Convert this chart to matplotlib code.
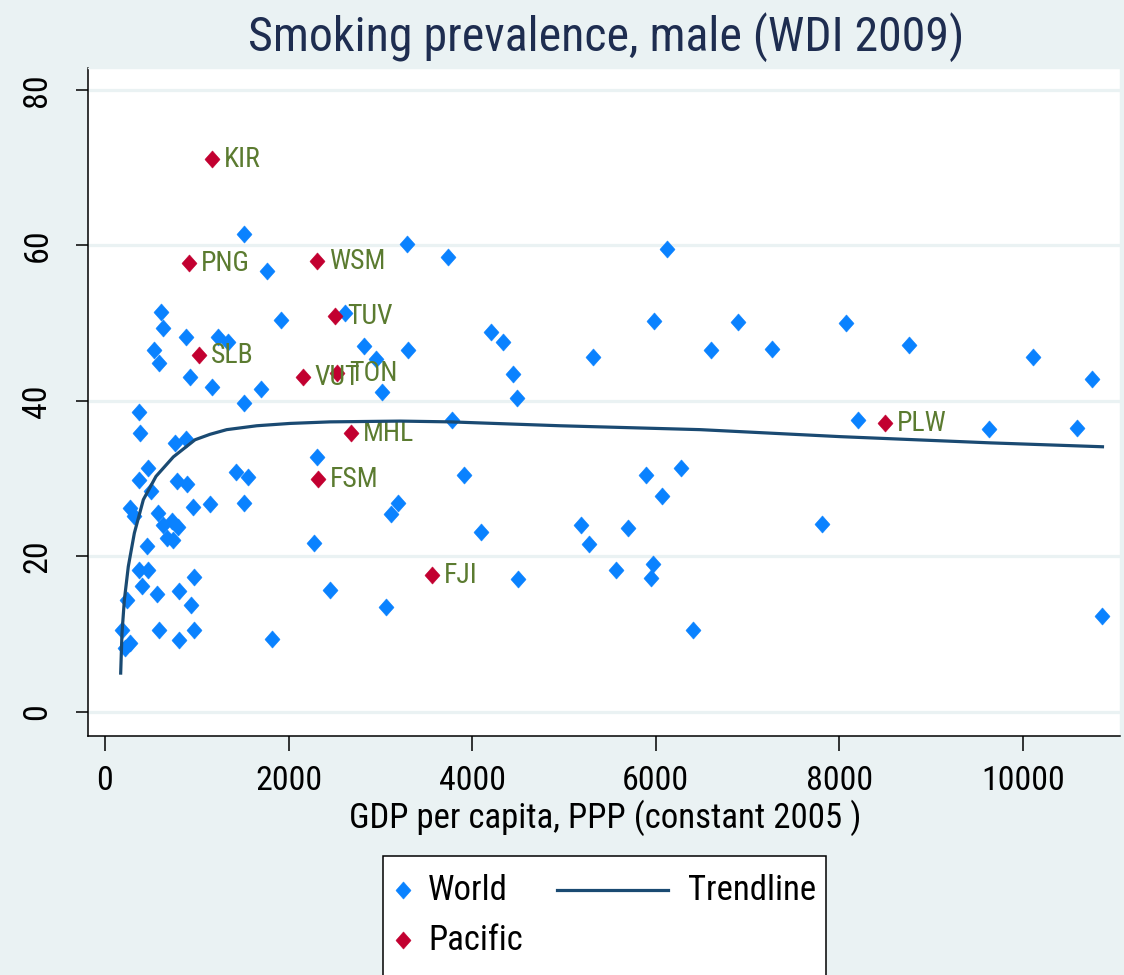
import matplotlib
matplotlib.use('Agg')
import matplotlib.pyplot as plt
from matplotlib import font_manager
from matplotlib.path import Path
from matplotlib.lines import Line2D
from matplotlib.patches import Rectangle

names = {f.name for f in font_manager.fontManager.ttflist}
FONT = None
for cand in ['Liberation Sans Narrow', 'Arial Narrow', 'Roboto Condensed', 'Archivo Narrow',
             'PT Sans Narrow']:
    if cand in names:
        FONT = cand
        break
if FONT is None:
    FONT = 'DejaVu Sans'
    plt.rcParams['font.stretch'] = 'condensed'
plt.rcParams['font.family'] = [FONT, 'DejaVu Sans']

# ---------------- data ----------------
world_gdp = [1515, 3292, 3738, 6125, 1766, 610, 632, 1918, 2616, 883, 1232, 1341, 534, 589,
             926, 1166, 1700, 1515, 2823, 2954, 3302, 3019, 4207, 4338, 4447, 4490, 3782,
             5319, 5984, 6899, 6605, 7270, 8076, 8763, 10104, 10757, 8207, 9635, 10594,
             10866, 7815, 6278, 5896, 6071, 5700, 5188, 5275, 5569, 5973, 5951, 6409, 3913,
             4098, 4501, 3063, 2452, 2278, 2311, 3117, 3193, 1428, 1559, 1515, 1144, 1820,
             371, 381, 763, 883, 469, 371, 501, 785, 894, 272, 316, 578, 959, 632, 730, 796,
             676, 741, 458, 371, 469, 403, 970, 567, 807, 937, 240, 185, 589, 807, 970, 272,
             218]
world_smoke = [61.4, 60.2, 58.5, 59.5, 56.7, 51.4, 49.4, 50.4, 51.3, 48.2, 48.2, 47.6, 46.6,
               44.9, 43.1, 41.8, 41.5, 39.7, 47.1, 45.4, 46.6, 41.2, 48.9, 47.6, 43.5, 40.4,
               37.6, 45.7, 50.3, 50.2, 46.6, 46.7, 50.0, 47.2, 45.7, 42.8, 37.6, 36.4, 36.5,
               12.3, 24.2, 31.4, 30.5, 27.8, 23.7, 24.1, 21.6, 18.3, 19.0, 17.2, 10.5, 30.5,
               23.2, 17.1, 13.5, 15.7, 21.7, 32.8, 25.5, 26.9, 30.9, 30.2, 26.9, 26.8, 9.4,
               38.6, 35.9, 34.6, 35.1, 31.4, 29.8, 28.4, 29.7, 29.3, 26.2, 25.2, 25.6, 26.4,
               24.1, 24.6, 23.8, 22.4, 22.1, 21.4, 18.3, 18.3, 16.2, 17.4, 15.2, 15.6, 13.8,
               14.4, 10.5, 10.5, 9.3, 10.5, 8.9, 8.2]

pac_codes = ['KIR', 'PNG', 'WSM', 'TUV', 'SLB', 'VUT', 'TON', 'MHL', 'FSM', 'FJI', 'PLW']
pac_gdp = [1166, 916, 2311, 2507, 1025, 2158, 2529, 2681, 2322, 3564, 8501]
pac_smoke = [71.1, 57.7, 58.0, 50.9, 45.9, 43.1, 43.6, 35.9, 30.0, 17.6, 37.2]

trend_gdp = [171, 185, 211, 254, 280, 320, 418, 556, 745, 981, 1144, 1326, 1653, 2016, 2452,
             3215, 3760, 4959, 6485, 8011, 9646, 10866]
trend_smoke = [5.0, 10.1, 14.4, 18.7, 20.4, 23.0, 27.3, 30.3, 32.8, 35.0, 35.7, 36.3, 36.8,
               37.1, 37.3, 37.4, 37.3, 36.8, 36.3, 35.4, 34.6, 34.1]

x_ticks = [0, 2000, 4000, 6000, 8000, 10000]
y_ticks = [0, 20, 40, 60, 80]

title = 'Smoking prevalence, male (WDI 2009)'
x_title = 'GDP per capita, PPP (constant 2005 )'
legend_labels = ['World', 'Pacific', 'Trendline']

# ---------------- style ----------------
BG = '#EAF2F3'
BLUE = '#0A82FF'
RED = '#C20030'
OLIVE = '#5B7B30'
NAVY = '#1A4A72'
TITLE_C = '#1E2D50'
TICK_FS = 24.5
LEG_FS = 25

diamond = Path([(0, 1), (0.88, 0), (0, -1), (-0.88, 0), (0, 1)],
               [Path.MOVETO, Path.LINETO, Path.LINETO, Path.LINETO, Path.CLOSEPOLY])

W, H = 1124, 975
fig = plt.figure(figsize=(W / 100, H / 100), dpi=100, facecolor=BG)
ax = fig.add_axes([88 / W, 1 - 736 / H, (1120 - 88) / W, (736 - 68) / H])
ax.set_facecolor('white')

ax.set_xlim(-185, 11057)
ax.set_ylim(-3.09, 82.8)

ax.plot(world_gdp, world_smoke, linestyle='none', marker=diamond, markersize=12.3,
        color=BLUE, mec=BLUE, mew=0.4, zorder=3)
ax.plot(pac_gdp, pac_smoke, linestyle='none', marker=diamond, markersize=12.3,
        color=RED, mec=RED, mew=0.4, zorder=4)
for code, gx, sy in zip(pac_codes, pac_gdp, pac_smoke):
    ax.annotate(code, (gx, sy), xytext=(8.5, -0.5), textcoords='offset points',
                ha='left', va='center', fontsize=20, color=OLIVE, zorder=5)
ax.plot(trend_gdp, trend_smoke, color=NAVY, linewidth=2.3, zorder=6,
        solid_joinstyle='round')

ax.set_xticks(x_ticks)
ax.set_xticklabels([str(v) for v in x_ticks], fontsize=TICK_FS)
ax.set_yticks(y_ticks)
ax.set_yticklabels([str(v) for v in y_ticks], fontsize=TICK_FS, rotation=90, va='center')
ax.tick_params(axis='x', length=11, width=1.1, pad=10, color='black')
ax.tick_params(axis='y', length=9, width=1.1, pad=16, color='black')
ax.grid(axis='y', color=BG, linewidth=2.3)
ax.set_axisbelow(True)
for s in ['top', 'right']:
    ax.spines[s].set_color(BG)
    ax.spines[s].set_linewidth(1.0)
for s in ['left', 'bottom']:
    ax.spines[s].set_color('black')
    ax.spines[s].set_linewidth(1.1)

ax.set_xlabel(x_title, fontsize=25)
ax.xaxis.set_label_coords((605 - 88) / (1120 - 88), -(818 - 736) / (736 - 68))
ax.xaxis.label.set_va('center')

fig.text(606 / W, 1 - 37 / H, title, ha='center', va='center', fontsize=34.5, color=TITLE_C)

# ---------------- legend (manual box) ----------------
fig.add_artist(Rectangle((383 / W, 1 - 990 / H), (826 - 383) / W, (990 - 856) / H,
                         transform=fig.transFigure, facecolor='white', edgecolor='black',
                         linewidth=1.1, zorder=10))
def fy(py):
    return 1 - py / H
fig.add_artist(Line2D([403 / W], [fy(890)], marker=diamond, markersize=12.3, color=BLUE,
                      mew=0.4, linestyle='none', transform=fig.transFigure, zorder=11))
fig.add_artist(Line2D([403 / W], [fy(940)], marker=diamond, markersize=12.3, color=RED,
                      mew=0.4, linestyle='none', transform=fig.transFigure, zorder=11))
fig.add_artist(Line2D([557 / W, 668 / W], [fy(890), fy(890)], color=NAVY, linewidth=2.3,
                      transform=fig.transFigure, zorder=11))
fig.text(428 / W, fy(891), legend_labels[0], fontsize=LEG_FS, va='center', ha='left', zorder=12)
fig.text(428 / W, fy(941), legend_labels[1], fontsize=LEG_FS, va='center', ha='left', zorder=12)
fig.text(688 / W, fy(891), legend_labels[2], fontsize=LEG_FS, va='center', ha='left', zorder=12)

fig.savefig('out.png', dpi=100, facecolor=BG)
